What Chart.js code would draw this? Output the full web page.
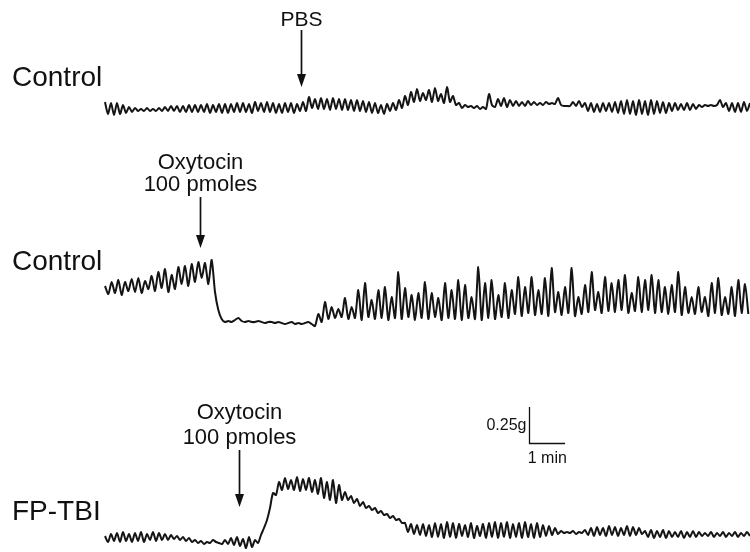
<!DOCTYPE html>
<html>
<head>
<meta charset="utf-8">
<script src="https://cdn.jsdelivr.net/npm/chart.js@4/dist/chart.umd.min.js"></script>
<style>
html,body{margin:0;padding:0;background:#fff;}
#wrap{width:750px;height:552px;}
</style>
</head>
<body>
<div id="wrap"><canvas id="c" width="750" height="552"></canvas></div>
<script>
// ---- DATA (pen deflection, arbitrary units; 36 units = 0.25 g) ----
// values are alternating contraction peaks / troughs, one every sample interval
const SAMPLE_MIN = [1 / 12, 1 / 10.8, 1 / 12];   // minutes between samples, per record
const TRACE_LABELS = ['Control', 'Control', 'FP-TBI'];

const controlPBS = [
  6,-6,5,-7,5,-6,3,-5,1,-4,
  0,-3,-1,-3,0,-3,-1,-3,0,-3,
  1,-3,2,-3,2,-4,2,-4,3,-4,
  3,-4,3,-4,4,-5,3,-4,4,-5,
  4,-5,4,-4,5,-4,5,-4,4,-5,
  6,-3,5,-4,6,-4,5,-5,4,-5,
  5,-4,5,-5,4,-3,6,-3,11,0,
  9,-1,10,-1,9,-2,10,-1,9,-2,
  9,-2,8,-3,8,-3,7,-4,6,-5,
  5,-5,3,-6,4,-3,5,-2,8,0,
  12,3,16,6,19,7,15,8,18,6,
  20,7,14,5,21,6,12,3,5,0,
  3,1,2,0,2,-1,1,-1,14,3,
  1,9,2,10,1,8,2,7,2,6,
  2,7,3,6,3,5,3,6,4,5,
  4,10,3,2,2,2,6,2,7,1,
  5,-3,5,-4,4,-4,5,-3,5,-4,
  6,-5,7,-6,8,-6,7,-7,8,-6,
  7,-7,8,-6,7,-5,6,-5,5,-3,
  5,-2,4,-2,5,-2,4,-1,3,1,
  3,2,3,2,3,8,1,5,-3,5,
  -4,5,-4,6,-3,5
];

const controlOxytocin = [
  36,28,40,29,42,27,40,31,43,30,
  44,29,41,33,46,31,50,34,53,30,
  47,33,55,38,56,36,58,40,60,44,
  59,38,62,30,12,3,0,1,0,2,
  4,1,0,1,0,0,1,0,-1,0,
  0,-1,0,-1,-2,-1,0,-2,-1,-2,
  -1,0,-2,-4,8,0,20,3,15,4,
  13,5,24,3,15,4,32,2,39,5,
  22,3,32,4,35,2,25,4,50,3,
  34,5,27,2,29,4,40,3,29,5,
  24,2,39,4,32,3,42,2,37,4,
  25,3,55,2,39,4,42,3,27,5,
  39,4,32,8,45,6,35,9,45,7,
  32,8,44,6,54,10,30,7,35,9,
  54,6,25,8,37,10,50,12,30,9,
  45,11,39,10,42,12,47,9,29,11,
  45,10,42,12,47,9,42,10,35,8,
  37,10,50,7,35,9,25,8,35,10,
  25,6,39,9,44,7,25,8,35,6,
  42,9,38,8
];

const fptbiOxytocin = [
  4,-2,6,-1,7,-2,8,-1,6,-2,
  7,-1,8,-2,6,0,8,-1,7,0,
  6,0,5,1,4,0,3,-1,2,-2,
  0,-3,-1,-4,-2,-3,0,-2,-3,-4,
  0,-4,2,-5,3,-6,1,-8,3,-7,
  0,-3,5,12,20,32,47,45,58,50,
  62,51,60,50,63,49,61,50,62,48,
  60,46,62,42,58,40,60,37,55,40,
  48,40,44,37,41,34,38,32,34,30,
  32,27,29,25,26,22,24,20,21,17,
  17,8,16,6,15,5,16,4,15,3,
  17,3,16,2,18,3,17,2,16,4,
  15,3,17,2,14,4,16,2,17,3,
  18,2,17,3,18,2,16,3,17,2,
  18,3,16,2,17,3,15,4,14,5,
  12,6,9,7,8,7,9,6,8,7,
  10,5,12,4,13,5,12,4,14,5,
  13,4,12,5,14,4,13,5,12,6,
  9,3,10,2,9,3,10,2,9,3,
  8,3,9,2,8,3,9,3,8,4,
  7,4,8,3,7,4,8,3,7,4,
  8,3,7,4,8,4
];

// drug application times (min from start of each record)
const EVENT_TIMES = [5.44, 2.64, 3.72];
const EVENT_LABELS = [['PBS'], ['Oxytocin', '100 pmoles'], ['Oxytocin', '100 pmoles']];
const SCALE_BAR = { g: 0.25, units: 36, min: 1, label: '0.25g', timeLabel: '1 min' };

// ---- LAYOUT ----
const BASELINES = [444, 230, 12];     // vertical offset of each record on the page
const PX_PER_MIN = 36;
const X_LEFT = 105;                   // px where records start
const W = 750, H = 552;

function toPoints(arr, base, dt) {
  return arr.map((v, i) => ({ x: i * dt, y: base + v }));
}

const records = [controlPBS, controlOxytocin, fptbiOxytocin];
const FONT = '"Liberation Sans", Arial, sans-serif';

const annotate = {
  id: 'annotate',
  afterDatasetsDraw(chart) {
    const ctx = chart.ctx;
    const xs = chart.scales.x, ys = chart.scales.y;
    ctx.save();
    ctx.fillStyle = '#111';
    ctx.strokeStyle = '#111';
    // record labels
    ctx.font = '28px ' + FONT;
    ctx.textAlign = 'left';
    ctx.textBaseline = 'middle';
    const labelY = [78, 262, 512];
    TRACE_LABELS.forEach((t, i) => ctx.fillText(t, 12, labelY[i]));

    // arrows + event labels  (tip / tail / text heights above the record baseline)
    const arrowGeom = [
      { tip: 21, tail: 78, text: [88] },
      { tip: 74, tail: 125, text: [159, 137] },
      { tip: 33, tail: 90, text: [127, 102] }
    ];
    EVENT_TIMES.forEach((t, i) => {
      const g = arrowGeom[i];
      const px = Math.round(xs.getPixelForValue(t)) + 0.5;
      const yTip = ys.getPixelForValue(BASELINES[i] + g.tip);
      const yTail = ys.getPixelForValue(BASELINES[i] + g.tail);
      ctx.lineWidth = 1.7;
      ctx.beginPath();
      ctx.moveTo(px, yTail);
      ctx.lineTo(px, yTip - 8);
      ctx.stroke();
      ctx.beginPath();
      ctx.moveTo(px, yTip);
      ctx.lineTo(px - 4.5, yTip - 13);
      ctx.lineTo(px + 4.5, yTip - 13);
      ctx.closePath();
      ctx.fill();
      ctx.font = (i === 0 ? '21px ' : '22px ') + FONT;
      ctx.textAlign = 'center';
      EVENT_LABELS[i].forEach((s, k) => {
        ctx.fillText(s, px, ys.getPixelForValue(BASELINES[i] + g.text[k]));
      });
    });

    // scale bar
    const t0 = 11.78, base = 109;
    const bx = Math.round(xs.getPixelForValue(t0)) + 0.5;
    const bx2 = xs.getPixelForValue(t0 + SCALE_BAR.min);
    const by = Math.round(ys.getPixelForValue(base)) + 0.5;
    const byTop = ys.getPixelForValue(base + SCALE_BAR.units);
    ctx.lineWidth = 1.3;
    ctx.beginPath();
    ctx.moveTo(bx, byTop);
    ctx.lineTo(bx, by);
    ctx.lineTo(bx2, by);
    ctx.stroke();
    ctx.font = '16px ' + FONT;
    ctx.textAlign = 'right';
    ctx.fillText(SCALE_BAR.label, bx - 3, by - 18);
    ctx.textAlign = 'center';
    ctx.fillText(SCALE_BAR.timeLabel, (bx + bx2) / 2, by + 15);
    ctx.restore();
  }
};

new Chart(document.getElementById('c'), {
  type: 'line',
  data: {
    datasets: records.map((r, i) => ({
      data: toPoints(r, BASELINES[i], SAMPLE_MIN[i]),
      borderColor: '#141414',
      borderWidth: 2,
      pointRadius: 0,
      tension: 0.25,
      fill: false
    }))
  },
  options: {
    responsive: false,
    animation: false,
    devicePixelRatio: 1,
    layout: { padding: 0 },
    plugins: { legend: { display: false }, tooltip: { enabled: false } },
    scales: {
      x: { type: 'linear', display: false, min: -X_LEFT / PX_PER_MIN, max: (W - X_LEFT) / PX_PER_MIN },
      y: { type: 'linear', display: false, min: 0, max: H }
    }
  },
  plugins: [annotate]
});
</script>
</body>
</html>
